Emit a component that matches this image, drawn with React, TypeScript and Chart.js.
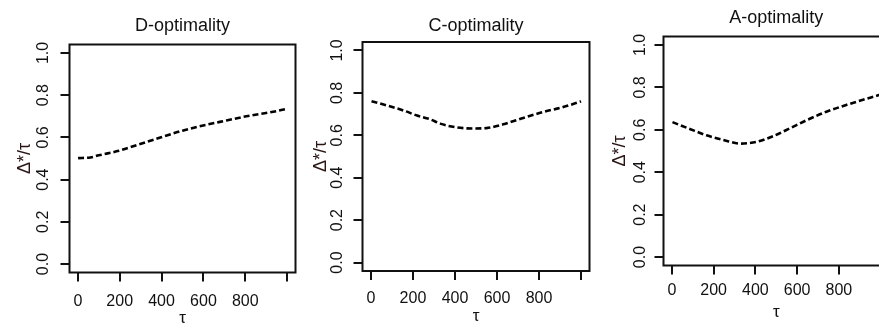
import React, { useEffect, useRef } from 'react';
import { Chart, registerables } from 'chart.js';

Chart.register(...registerables);

// ---- data ----
const TITLES = ['D-optimality', 'C-optimality', 'A-optimality'];
const X_TICKS = [0, 200, 400, 600, 800, 1000];
const Y_TICKS = [0, 0.2, 0.4, 0.6, 0.8, 1.0];
const X_LABEL = 'τ';
const Y_LABEL = 'Δ*/τ';

const D_TAU = [1, 60, 100, 190, 280, 390, 500, 615, 710, 805, 915, 1000];
const D_VAL = [0.502, 0.505, 0.515, 0.535, 0.563, 0.598, 0.632, 0.66, 0.68, 0.70, 0.718, 0.735];

const C_TAU = [3, 90, 155, 220, 280, 330, 410, 490, 550, 630, 725, 820, 915, 1000];
const C_VAL = [0.761, 0.737, 0.717, 0.693, 0.676, 0.655, 0.637, 0.632, 0.634, 0.652, 0.682, 0.71, 0.733, 0.76];

const A_TAU = [3, 86, 166, 246, 330, 405, 485, 565, 645, 740, 835, 965, 1000];
const A_VAL = [0.636, 0.604, 0.574, 0.552, 0.535, 0.543, 0.57, 0.607, 0.645, 0.685, 0.717, 0.756, 0.766];

// ---- layout (pixels) ----
const FONT = 'Liberation Sans, Arial, Helvetica, sans-serif';
const INK = '#111';
const H = 327;

const LAYOUTS = [
  { cl: 0, cw: 300, boxL: 69.5, boxR: 295.5, boxT: 44.5, boxB: 272.5, titleY: 26, yTitleX: 25, yTickOff: 25.5, xTickY: 302, xTitleY: 318 },
  { cl: 300, cw: 296, boxL: 362.5, boxR: 589.5, boxT: 42, boxB: 271, titleY: 26.5, yTitleX: 321.5, yTickOff: 25, xTickY: 299, xTitleY: 316 },
  { cl: 596, cw: 303, boxL: 663.5, boxR: 889, boxT: 36.5, boxB: 265.5, titleY: 18.5, yTitleX: 620.5, yTickOff: 22.5, xTickY: 291, xTitleY: 312 },
];

const boxPlugin = {
  id: 'rbox',
  afterDraw(chart: any) {
    const { ctx, chartArea: a } = chart;
    ctx.save();
    ctx.strokeStyle = INK;
    ctx.lineWidth = 2;
    ctx.strokeRect(a.left, a.top, a.right - a.left, a.bottom - a.top);
    ctx.restore();
  },
};

function Panel({ idx, tau, val }: { idx: number; tau: number[]; val: number[] }) {
  const ref = useRef<HTMLCanvasElement>(null);
  const L = LAYOUTS[idx];
  useEffect(() => {
    const tickSize = 16;
    const tickFont = { family: FONT, size: tickSize };
    const titleSize = 18;
    const titleLH = titleSize * 1.2;
    const tl = 9;
    const chart = new Chart(ref.current as HTMLCanvasElement, {
      type: 'line',
      data: {
        datasets: [
          {
            data: tau.map((t, i) => ({ x: t, y: val[i] })),
            borderColor: '#000',
            borderWidth: 2.6,
            borderDash: [6, 3],
            pointRadius: 0,
            cubicInterpolationMode: 'monotone',
            fill: false,
          } as any,
        ],
      },
      options: {
        responsive: false,
        animation: false,
        devicePixelRatio: 1,
        layout: { padding: { left: 0, top: 0, bottom: 0, right: L.cw - (L.boxR - L.cl) } },
        plugins: {
          legend: { display: false },
          tooltip: { enabled: false },
          title: {
            display: true,
            text: TITLES[idx],
            fullSize: false,
            color: INK,
            font: { family: FONT, size: titleSize, weight: 'normal', lineHeight: 1.2 },
            padding: { top: L.titleY - titleLH / 2, bottom: L.boxT - (L.titleY + titleLH / 2) },
          },
        },
        scales: {
          x: {
            type: 'linear',
            min: -40,
            max: 1040,
            afterBuildTicks: (s: any) => {
              s.ticks = X_TICKS.map((v) => ({ value: v }));
            },
            afterFit: (s: any) => {
              s.height = H - L.boxB;
            },
            ticks: {
              autoSkip: false,
              maxRotation: 0,
              color: INK,
              font: tickFont,
              padding: L.xTickY - L.boxB - tl - (tickSize * 1.2) / 2,
              callback: (v: any) => (Number(v) === 1000 ? '' : String(v)),
            },
            grid: { drawOnChartArea: false, drawTicks: true, tickLength: tl, color: INK, lineWidth: 2 },
            border: { display: false },
            title: {
              display: true,
              text: X_LABEL,
              color: INK,
              font: { family: FONT, size: 17, lineHeight: 1.1 },
              padding: { top: 0, bottom: H - 9.35 - L.xTitleY },
            },
          },
          y: {
            type: 'linear',
            min: -0.04,
            max: 1.04,
            afterBuildTicks: (s: any) => {
              s.ticks = Y_TICKS.map((v) => ({ value: v }));
            },
            afterFit: (s: any) => {
              s.width = L.boxL - L.cl;
            },
            ticks: {
              minRotation: 90,
              maxRotation: 90,
              crossAlign: 'center',
              color: INK,
              font: tickFont,
              padding: L.yTickOff - tl - (1.39 * tickSize) / 2,
              callback: (v: any) => Number(v).toFixed(1),
            },
            grid: { drawOnChartArea: false, drawTicks: true, tickLength: tl, color: INK, lineWidth: 2 },
            border: { display: false },
            title: {
              display: true,
              text: Y_LABEL,
              color: '#2a1414',
              font: { family: FONT, size: 18, lineHeight: 1.2 },
              padding: { top: L.yTitleX - L.cl - 10.8, bottom: 0 },
            },
          },
        },
      } as any,
      plugins: [boxPlugin],
    });
    return () => chart.destroy();
  }, []);
  return (
    <canvas
      ref={ref}
      width={L.cw}
      height={H}
      style={{ position: 'absolute', left: L.cl, top: 0, width: L.cw, height: H }}
    />
  );
}

export default function App() {
  return (
    <div
      style={{
        position: 'fixed',
        left: 0,
        top: 0,
        width: 879,
        height: H,
        overflow: 'hidden',
        background: '#fff',
      }}
    >
      <Panel idx={0} tau={D_TAU} val={D_VAL} />
      <Panel idx={1} tau={C_TAU} val={C_VAL} />
      <Panel idx={2} tau={A_TAU} val={A_VAL} />
    </div>
  );
}
